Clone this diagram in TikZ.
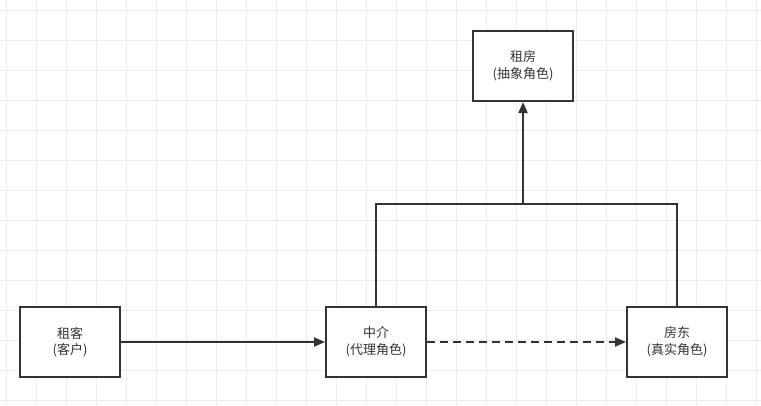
\documentclass[tikz,border=0pt]{standalone}
\usepackage{fontspec}
\setmainfont{Noto Sans CJK SC}
\usetikzlibrary{arrows.meta}
\definecolor{ln}{HTML}{333333}
\definecolor{gridc}{HTML}{EBEBEB}
\tikzset{
  box/.style={draw=ln, line width=2pt, fill=white, minimum width=100pt, minimum height=70pt, inner sep=0pt, align=center, text=ln, font=\fontsize{13pt}{16.5pt}\selectfont},
  conn/.style={draw=ln, line width=2pt, -{Triangle[length=11pt,width=9pt]}},
  plain/.style={draw=ln, line width=2pt},
  dashline/.style={dash pattern=on 8pt off 5pt}
}
\begin{document}
\begin{tikzpicture}[x=1pt,y=-1pt]
\useasboundingbox (0,0) rectangle (761,405);
\fill[white] (0,0) rectangle (761,405);
\foreach \i in {0,...,25} { \draw[gridc, line width=1pt] ({6.7+30*\i},0) -- ({6.7+30*\i},405); }
\foreach \j in {0,...,13} { \draw[gridc, line width=1pt] (0,{10.7+30*\j}) -- (761,{10.7+30*\j}); }
\node[box] (zf) at (523,66) {租房\\(抽象角色)};
\node[box] (zk) at (70,342) {租客\\(客户)};
\node[box] (zj) at (376,342) {中介\\(代理角色)};
\node[box] (fd) at (677,342) {房东\\(真实角色)};
\coordinate (j) at (523,204);
\draw[conn] (zk) -- (zj);
\draw[conn, dashline] (zj) -- (fd);
\draw[plain] (zj.north) |- (j) -| (fd.north);
\draw[conn] (j) -- (zf.south);
\end{tikzpicture}
\end{document}
